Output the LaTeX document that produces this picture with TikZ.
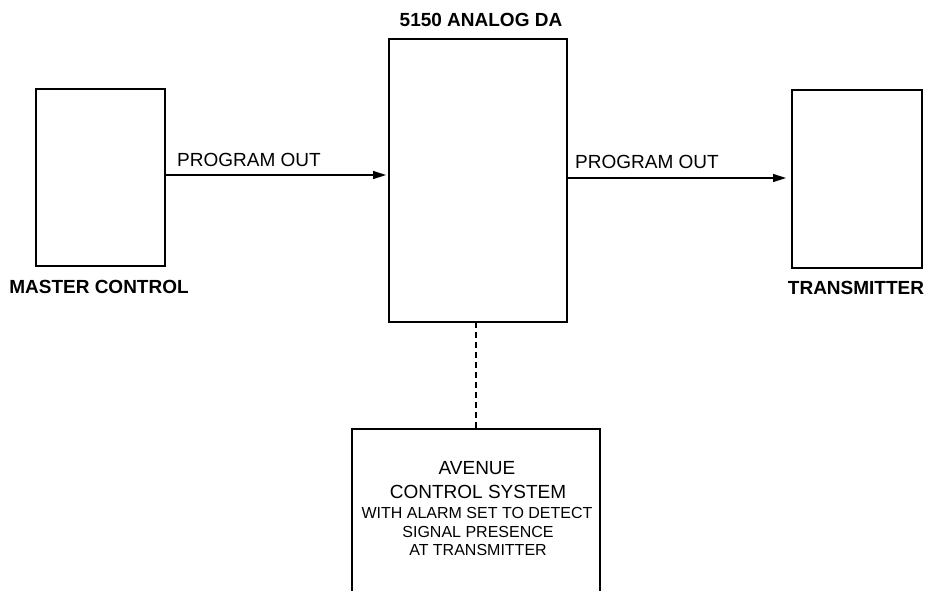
\documentclass[tikz,border=0pt]{standalone}
\usepackage{fontspec}
\setmainfont{Liberation Sans}
\usetikzlibrary{arrows.meta}
\tikzset{
  box/.style={draw=black, line width=1.5pt, rectangle, inner sep=0pt, outer sep=0pt},
  flow/.style={draw=black, line width=1.4pt, -{Triangle[length=13pt,width=8pt]}},
  link/.style={draw=black, line width=1.4pt, dash pattern=on 6pt off 4pt},
  bigbold/.style={font=\fontsize{19}{22}\selectfont\bfseries, inner sep=0pt},
  lbl/.style={font=\fontsize{19}{22}\selectfont, inner sep=0pt},
  small/.style={font=\fontsize{16}{19}\selectfont, inner sep=0pt},
}
\begin{document}
\begin{tikzpicture}[x=1pt,y=-1pt]
\useasboundingbox (0,0) rectangle (927,590);
\clip (0,0) rectangle (927,590);
% boxes
\node[box, minimum width=129pt, minimum height=177pt] (master) at (100.5,177.5) {};
\node[box, minimum width=178pt, minimum height=283pt] (da) at (478,180.5) {};
\node[box, minimum width=130pt, minimum height=178pt] (tx) at (857,179) {};
\node[box, minimum width=248pt, minimum height=191pt] (avenue) at (476,524.5) {};
% titles
\node[bigbold] (datitle) at (481,20) {5150 ANALOG DA};
\node[bigbold] (mastertitle) at (99,286.5) {MASTER CONTROL};
\node[bigbold] (txtitle) at (856,288) {TRANSMITTER};
% connectors
\draw[flow, shorten >=3pt] ([yshift=2.5pt]master.east) -- ([yshift=2.5pt]master.east -| da.west);
\draw[flow, shorten >=6pt] ([yshift=2.5pt]da.east) -- ([yshift=2.5pt]da.east -| tx.west);
\draw[link] (da.south -| avenue.north) -- (avenue.north);
% connector labels
\node[lbl, anchor=west] (po1) at (177,159.5) {PROGRAM OUT};
\node[lbl, anchor=west] (po2) at (575,161.5) {PROGRAM OUT};
% avenue text
\node[lbl, anchor=base] (av1) at (477,474.8) {AVENUE};
\node[lbl, anchor=base] (av2) at (478,498.8) {CONTROL SYSTEM};
\node[small, anchor=base] (av3) at (477,518.7) {WITH ALARM SET TO DETECT};
\node[small, anchor=base] (av4) at (478,537.7) {SIGNAL PRESENCE};
\node[small, anchor=base] (av5) at (478,555.7) {AT TRANSMITTER};
\end{tikzpicture}
\end{document}
